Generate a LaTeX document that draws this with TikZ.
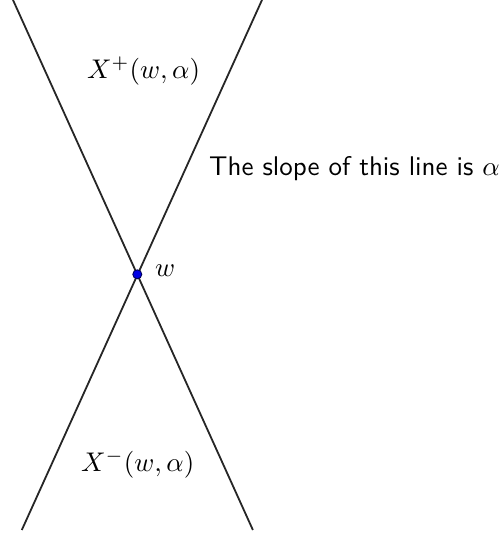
\documentclass[tikz,border=0pt]{standalone}
\usepackage{graphicx}
\newcommand{\bigtxt}[1]{\scalebox{2.7}{#1}}
\begin{document}
\begin{tikzpicture}[x=1pt,y=-1pt,
  lbl/.style={inner sep=0pt,anchor=base west},
  ln/.style={line width=1.8pt,black!85}]
\useasboundingbox (0,0) rectangle (503,538);
\coordinate (w) at (137.3,274.3);
\coordinate (a1) at (13,0);
\coordinate (a2) at (252.9,530);
\coordinate (b1) at (262,0);
\coordinate (b2) at (21.8,530);
\draw[ln] (a1) -- (a2);
\draw[ln] (b1) -- (b2);
\node[circle,fill=blue!90!black,draw=blue!35!black,line width=0.9pt,minimum size=9pt,inner sep=0pt] (dot) at (w) {};
\node[lbl] (wl) at (155,276) {\bigtxt{$w$}};
\node[lbl] (xp) at (87,78) {\bigtxt{$X^{+}(w,\alpha)$}};
\node[lbl] (xm) at (81,471) {\bigtxt{$X^{-}(w,\alpha)$}};
\node[lbl] (sl) at (209,175) {\bigtxt{\sffamily The slope of this line is $\alpha$}};
\end{tikzpicture}
\end{document}
